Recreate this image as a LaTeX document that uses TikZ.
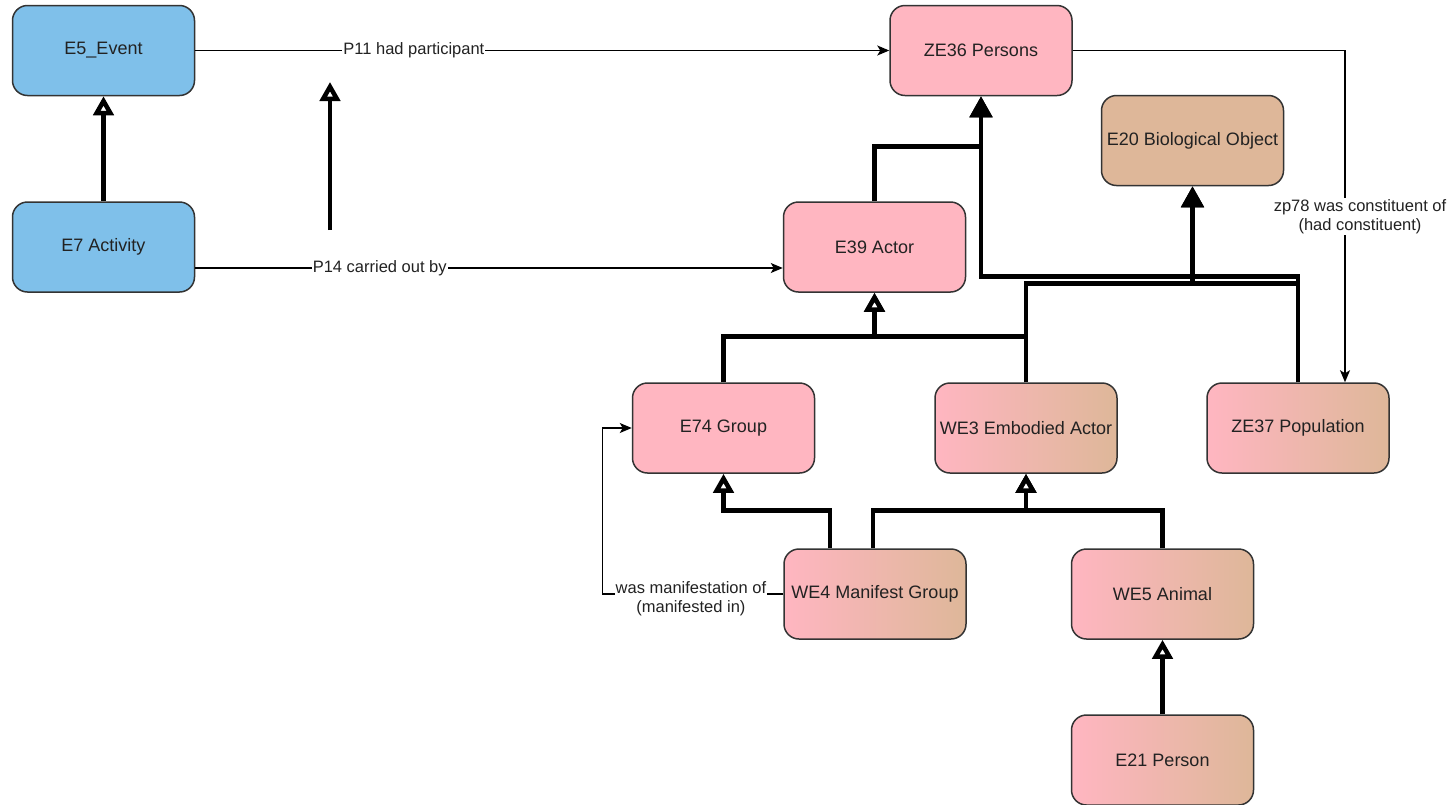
\documentclass[tikz,border=0pt]{standalone}
\usepackage{fontspec}
\setmainfont{Liberation Sans}
\usetikzlibrary{arrows.meta}
\definecolor{cblue}{RGB}{127,192,234}
\definecolor{cpink}{RGB}{255,182,193}
\definecolor{ctan}{RGB}{222,183,153}
\definecolor{cedge}{RGB}{51,51,51}
\definecolor{ctext}{RGB}{34,34,34}
\begin{document}
\begin{tikzpicture}[x=1pt,y=-1pt,
 box/.style={draw=cedge, line width=1.5pt, rounded corners=15pt, minimum width=182pt, minimum height=90pt, inner sep=0pt, font=\fontsize{18}{21}\selectfont, text=ctext},
 bluebox/.style={box, fill=cblue},
 pinkbox/.style={box, fill=cpink},
 tanbox/.style={box, fill=ctan},
 gradbox/.style={box, left color=cpink, right color=ctan},
 rel/.style={draw=black, line width=1.3pt, -{Stealth[length=12pt,width=10pt,inset=3pt]}},
 isa/.style={draw=black, line width=4.5pt, -{Triangle[length=19pt,width=20pt,fill=white]}},
 isaf/.style={draw=black, line width=4.5pt, -{Triangle[length=21pt,width=22pt]}},
 lbl/.style={fill=white, inner sep=1pt, font=\fontsize{16.5}{19}\selectfont, text=ctext, align=center},
]
\useasboundingbox[fill=white] (0,0) rectangle (1454,804);

\node[bluebox] (e5) at (103.5,50.5) {E5\_Event};
\node[bluebox] (e7) at (103.5,247) {E7 Activity};
\node[pinkbox] (ze36) at (981,50.5) {ZE36 Persons};
\node[tanbox] (e20) at (1192.5,140.5) {E20 Biological Object};
\node[pinkbox] (e39) at (874.5,247) {E39 Actor};
\node[pinkbox] (e74) at (723.5,428) {E74 Group};
\node[gradbox] (we3) at (1026,428) {WE3 Embodied Actor};
\node[gradbox] (ze37) at (1298,428) {ZE37 Population};
\node[gradbox] (we4) at (875,594) {WE4 Manifest Group};
\node[gradbox] (we5) at (1162.5,594) {WE5 Animal};
\node[gradbox] (e21) at (1162.5,760) {E21 Person};

\coordinate (sp0) at (330,230);
\coordinate (sp1) at (330,82);

\draw[isa] (e7.north) -- (e5.south);
\draw[isa] (sp0) -- (sp1);
\draw[rel] (e5.east) -- node[lbl,pos=0.315]{P11 had participant} (ze36.west);
\draw[rel] ([yshift=-21pt]e7.east) -- node[lbl,pos=0.314]{P14 carried out by} ([yshift=-21pt]e39.west);

\draw[isaf] (e39.north) -- ++(0,-55) -| (ze36.south);
\draw[isaf] (ze37.north) -- ++(0,-106) -| (ze36.south);
\draw[isaf] (ze37.north) -- ++(0,-99) -| (e20.south);
\draw[isaf] (we3.north) -- ++(0,-99) -| (e20.south);
\draw[isa] (we3.north) -- ++(0,-46) -| (e39.south);
\draw[isa] (e74.north) -- ++(0,-46) -| (e39.south);
\draw[isa] ([xshift=-45pt]we4.north) -- ++(0,-38) -| (e74.south);
\draw[isa] ([xshift=-2pt]we4.north) -- ++(0,-38) -| (we3.south);
\draw[isa] (we5.north) -- ++(0,-38) -| (we3.south);
\draw[isa] (e21.north) -- (we5.south);

\draw[rel] (we4.west) -- node[lbl,pos=0.51,yshift=-5pt]{was manifestation of\\(manifested in)} ++(-181,0) |- (e74.west);
\draw[rel] (ze36.east) -| node[lbl,pos=0.75,xshift=15pt]{zp78 was constituent of\\(had constituent)} ([xshift=47pt]ze37.north);
\end{tikzpicture}
\end{document}
